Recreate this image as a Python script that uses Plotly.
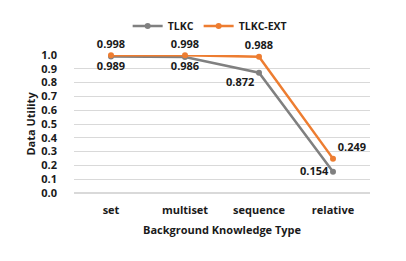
import plotly.graph_objects as go

categories = ["set", "multiset", "sequence", "relative"]
tlkc = [0.989, 0.986, 0.872, 0.154]
tlkc_ext = [0.998, 0.998, 0.988, 0.249]
tlkc_pos = ["bottom center", "bottom center", "bottom left", "middle left"]
ext_pos = ["top center", "top center", "top center", "top right"]

font_family = "Open Sans, Liberation Sans, sans-serif"

fig = go.Figure()
fig.add_trace(go.Scatter(
    x=categories, y=tlkc, name="TLKC", mode="lines+markers+text",
    line=dict(color="#808080", width=2.5), marker=dict(size=6, color="#808080"),
    text=[f"{v:.3f}" for v in tlkc], textposition=tlkc_pos,
    textfont=dict(size=11, color="#1a1a1a", family=font_family, weight="bold"),
    cliponaxis=False,
))
fig.add_trace(go.Scatter(
    x=categories, y=tlkc_ext, name="TLKC-EXT", mode="lines+markers+text",
    line=dict(color="#ED7D31", width=2.5), marker=dict(size=6, color="#ED7D31"),
    text=[f"{v:.3f}" for v in tlkc_ext], textposition=ext_pos,
    textfont=dict(size=11, color="#1a1a1a", family=font_family, weight="bold"),
    cliponaxis=False,
))

fig.update_layout(
    width=398, height=253,
    margin=dict(l=66, r=36, t=47, b=68, autoexpand=False),
    paper_bgcolor="white", plot_bgcolor="white",
    font=dict(family=font_family, size=11, color="#1a1a1a", weight="bold"),
    showlegend=True,
    legend=dict(orientation="h", x=0.46, xanchor="center", y=1.21, yanchor="middle",
                bgcolor="rgba(0,0,0,0)",
                font=dict(size=10.5, weight="bold"), itemwidth=30, traceorder="normal"),
    xaxis=dict(type="category", range=[-0.5, 3.5], showgrid=False, showline=False,
               ticks="", tickfont=dict(size=11, weight="bold"), automargin=False,
               ticklabelstandoff=9),
    yaxis=dict(range=[0, 1.0], dtick=0.1, tickformat=".1f", showgrid=True,
               gridcolor="#d9d9d9", gridwidth=1, zeroline=True, zerolinecolor="#d9d9d9",
               showline=False, ticks="", tickfont=dict(size=11, weight="bold"),
               automargin=False, ticklabelstandoff=16),
    annotations=[
        dict(text="Background Knowledge Type", xref="paper", yref="paper",
             x=0.5, y=-0.261, xanchor="center", yanchor="middle",
             showarrow=False, font=dict(size=11, weight="bold")),
        dict(text="Data Utility", xref="paper", yref="paper", textangle=-90,
             x=-0.15, y=0.5, xanchor="center", yanchor="middle",
             showarrow=False, font=dict(size=11, weight="bold")),
    ],
)

fig.write_html("out.html")
